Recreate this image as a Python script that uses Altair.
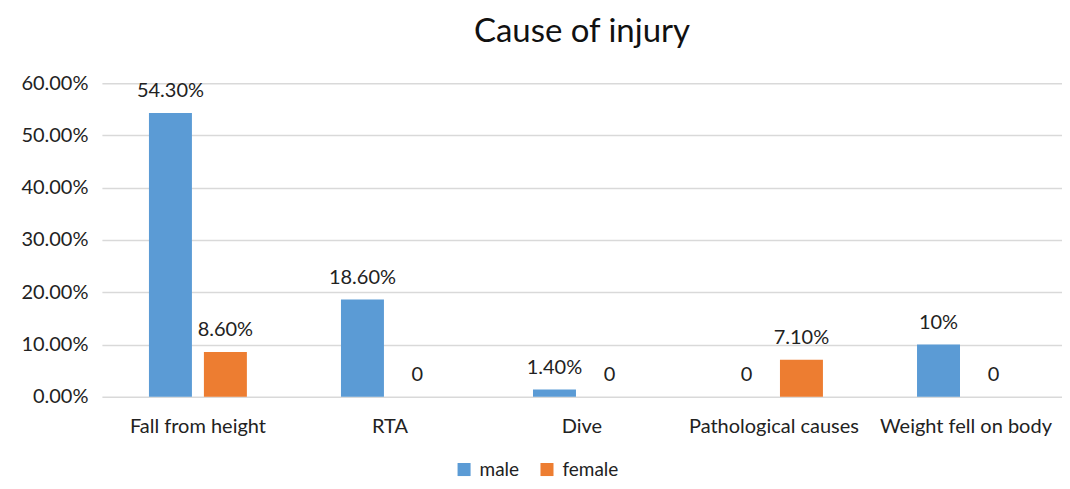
import altair as alt
import pandas as pd

categories = ["Fall from height", "RTA", "Dive", "Pathological causes", "Weight fell on body"]
male = [0.543, 0.186, 0.014, 0.0, 0.10]
female = [0.086, 0.0, 0.0, 0.071, 0.0]
male_labels = ["54.30%", "18.60%", "1.40%", "0", "10%"]
female_labels = ["8.60%", "0", "0", "7.10%", "0"]
series = ["male", "female"]
colors = ["#5B9BD5", "#ED7D31"]

rows = []
for i, c in enumerate(categories):
    rows.append({"cause": c, "sex": "male", "value": male[i], "label": male_labels[i]})
    rows.append({"cause": c, "sex": "female", "value": female[i], "label": female_labels[i]})
df = pd.DataFrame(rows)

FONT = "Lato"
FS = 20

x = alt.X("cause:N", sort=categories, title=None,
          scale=alt.Scale(paddingInner=0.49, paddingOuter=0.245),
          axis=alt.Axis(labelAngle=0, labelFontSize=FS, labelColor="#222222",
                        labelPadding=20, ticks=False, domain=False, labelLimit=300,
                        labelFont=FONT))
xoff = alt.XOffset("sex:N", sort=series, scale=alt.Scale(paddingInner=0.218, paddingOuter=0))
y = alt.Y("value:Q", title=None,
          scale=alt.Scale(domain=[0, 0.6]),
          axis=alt.Axis(format=".2%", values=[0, 0.1, 0.2, 0.3, 0.4, 0.5, 0.6],
                        labelFontSize=FS, labelColor="#222222", labelPadding=14,
                        ticks=False, domain=False, gridColor="#D9D9D9", gridWidth=1.5,
                        labelFont=FONT))
color = alt.Color("sex:N", sort=series, scale=alt.Scale(domain=series, range=colors),
                  legend=alt.Legend(title=None, orient="none", direction="horizontal",
                                    legendX=353, legendY=377, symbolType="square",
                                    symbolSize=170, symbolStrokeWidth=0, labelFontSize=19,
                                    labelFont=FONT, labelColor="#222222", columnPadding=18,
                                    symbolOpacity=1, labelOffset=6))

bars = alt.Chart(df).mark_bar().encode(x=x, xOffset=xoff, y=y, color=color)
text = alt.Chart(df).mark_text(baseline="bottom", dy=-12, fontSize=FS, font=FONT,
                               color="#222222").encode(
    x=alt.X("cause:N", sort=categories), xOffset=alt.XOffset("sex:N", sort=series),
    y="value:Q", text="label:N")

chart = alt.layer(bars, text).properties(
    width=961, height=314,
    title=alt.Title("Cause of injury", fontSize=33, font=FONT, fontWeight="normal",
                    color="#111111", anchor="middle", offset=24),
    autosize=alt.AutoSizeParams(type="none"),
    padding={"left": 94, "top": 75, "right": 0, "bottom": 84},
).configure_view(stroke=None)

chart.save("out.html", embed_options={"renderer": "svg", "actions": False})
